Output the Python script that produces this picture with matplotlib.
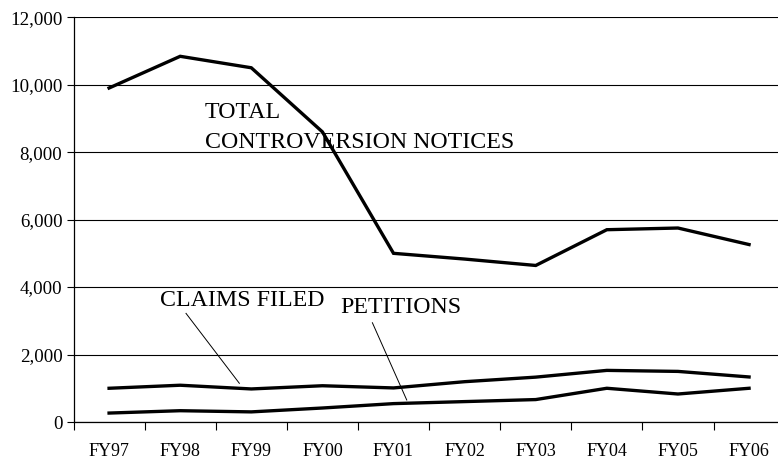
import numpy as np
import matplotlib
matplotlib.use('Agg')
import matplotlib.pyplot as plt
from matplotlib.ticker import FuncFormatter

plt.rcParams['font.family'] = ['Liberation Serif', 'DejaVu Serif']

years = ['FY97', 'FY98', 'FY99', 'FY00', 'FY01', 'FY02', 'FY03', 'FY04', 'FY05', 'FY06']
total_notices = [9900, 10840, 10500, 8600, 5000, 4830, 4640, 5700, 5750, 5260]
claims_filed = [1000, 1090, 980, 1075, 1010, 1195, 1330, 1530, 1500, 1335]
petitions = [265, 335, 300, 415, 545, 605, 665, 1000, 830, 1000]

fig = plt.figure(figsize=(7.78, 4.59), dpi=100)
ax = fig.add_axes([0.0945, 0.0806, 0.914, 0.882])

x = np.arange(len(years))
ax.plot(x, total_notices, c='k', lw=2.4, solid_joinstyle='miter')
ax.plot(x, claims_filed, c='k', lw=2.4, solid_joinstyle='miter')
ax.plot(x, petitions, c='k', lw=2.4, solid_joinstyle='miter')

ax.set_xlim(-0.5, len(years) - 0.5)
ax.set_ylim(0, 12000)
ax.set_yticks(range(0, 12001, 2000))
ax.yaxis.set_major_formatter(FuncFormatter(lambda v, p: '{:,.0f}'.format(v)))
ax.grid(axis='y', color='k', lw=0.8)
ax.set_axisbelow(True)

# ticks between categories, labels at centers
ax.set_xticks(np.arange(-0.5, len(years), 1.0))
ax.set_xticklabels([])
ax.set_xticks(x, minor=True)
ax.set_xticklabels(years, minor=True)
ax.tick_params(axis='x', which='major', direction='out', length=6, width=0.8)
ax.tick_params(axis='x', which='minor', length=0, pad=15, labelsize=13)
ax.tick_params(axis='y', direction='out', length=5, width=0.8, labelsize=13.6, pad=3)

for s in ['top', 'right']:
    ax.spines[s].set_visible(False)
for s in ['left', 'bottom']:
    ax.spines[s].set_linewidth(0.9)

ax.text(1.35, 8998, 'TOTAL', fontsize=17.2, va='baseline')
ax.text(1.35, 8110, 'CONTROVERSION NOTICES', fontsize=17.2, va='baseline')
ax.text(0.717, 3437, 'CLAIMS FILED', fontsize=17.2, va='baseline')
ax.text(3.258, 3239, 'PETITIONS', fontsize=17.2, va='baseline')
ax.plot([1.082, 1.832], [3220, 1147], c='k', lw=0.7)
ax.plot([3.703, 4.186], [2942, 652], c='k', lw=0.7)

fig.savefig('out.png', dpi=100)
